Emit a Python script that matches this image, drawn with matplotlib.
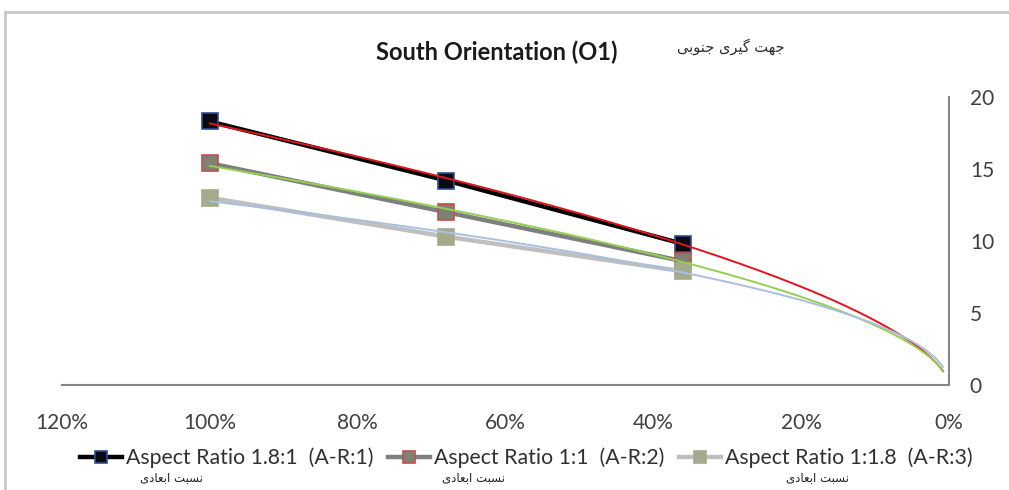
import numpy as np
import matplotlib
matplotlib.use("Agg")
import matplotlib.pyplot as plt
from matplotlib.lines import Line2D
from matplotlib.ticker import FuncFormatter

# ---- data ----
x_ratio = [1.00, 0.68, 0.36]
s1 = [18.3, 14.2, 9.8]
s2 = [15.4, 12.0, 8.6]
s3 = [13.0, 10.3, 7.9]
series_labels = ["Aspect Ratio 1.8:1  (A-R:1)",
                 "Aspect Ratio 1:1  (A-R:2)",
                 "Aspect Ratio 1:1.8  (A-R:3)"]
title = "South Orientation (O1)"
# Persian texts written with Arabic presentation forms in visual order
title_fa = "\uFBFD\uFE91\uFEEE\uFEE8\uFE9F \uFBFC\uFEAE\uFBFF\uFB94 \uFE96\uFEEC\uFE9F"   # جهت گیری جنوبی
legend_fa = "\uFBFC\uFEA9\uFE8E\uFECC\uFE91\uFE8D \uFE96\uFE92\uFEB4\uFEE7"             # نسبت ابعادی
x_ticks = [1.2, 1.0, 0.8, 0.6, 0.4, 0.2, 0.0]
y_ticks = [0, 5, 10, 15, 20]

plt.rcParams['font.family'] = ['Lato', 'DejaVu Sans']

W, H = 1009, 490
fig = plt.figure(figsize=(W / 100, H / 100), dpi=100)
fig.patch.set_facecolor("white")

def fx(px):
    return px / W

def fy(py):
    return 1 - py / H

ax = fig.add_axes([fx(62), fy(385), fx(949) - fx(62), fy(97) - fy(385)])

line_styles = [
    dict(color="#000000", mfc="#0a0a14", mec="#2f4f8f"),
    dict(color="#7f7f7f", mfc="#808075", mec="#c0504d"),
    dict(color="#bfbfbf", mfc="#a4aa8c", mec="#a4aa8c"),
]
trend_colors = ["#e3131e", "#92d050", "#a9bfe0"]

handles = []
for ys, st, lab in zip([s1, s2, s3], line_styles, series_labels):
    h, = ax.plot(x_ratio, ys, color=st["color"], lw=3.2, marker="s", ms=11,
                 mfc=st["mfc"], mec=st["mec"], mew=1.2, label=lab, zorder=3)
    handles.append(h)

# power trendlines fitted to each series
xt = np.linspace(0.008, 1.0, 300)
for ys, c in zip([s1, s2, s3], trend_colors):
    b, lna = np.polyfit(np.log(x_ratio), np.log(ys), 1)
    ax.plot(xt, np.exp(lna) * xt ** b, color=c, lw=1.4, zorder=4)

ax.set_xlim(1.2, 0.0)
ax.set_ylim(0, 20)
ax.set_xticks(x_ticks)
ax.xaxis.set_major_formatter(FuncFormatter(lambda v, p: f"{v*100:.0f}%"))
ax.set_yticks(y_ticks)
ax.yaxis.tick_right()
for s in ["top", "left"]:
    ax.spines[s].set_visible(False)
for s in ["bottom", "right"]:
    ax.spines[s].set_color("#868686")
    ax.spines[s].set_linewidth(1.5)
ax.tick_params(axis="x", length=0, pad=20, labelsize=15, labelcolor="#404040")
ax.tick_params(axis="y", length=0, pad=15, labelsize=15, labelcolor="#404040")

# title
fig.text(fx(497), fy(52), title, ha="center", va="center", fontsize=17,
         fontweight="bold", color="#1a1a1a")
fig.text(fx(731), fy(47), title_fa, ha="center", va="center", fontsize=10.5,
         family=["DejaVu Sans"], color="#303030")

# legend
leg = fig.legend(handles=handles, loc="center", bbox_to_anchor=(fx(526), fy(458)),
                 ncol=3, frameon=False, fontsize=15.3, handlelength=2.0,
                 handletextpad=0.15, columnspacing=0.7, markerscale=0.8)
for t in leg.get_texts():
    t.set_color("#303030")
for xp in [172, 473, 817]:
    fig.text(fx(xp), fy(478), legend_fa, ha="center", va="center", fontsize=8.5,
             family=["DejaVu Sans"], color="#202020")

# chart frame border
fig.add_artist(Line2D([fx(5), 1.0], [fy(12), fy(12)], color="#c8c8c8", lw=2))
fig.add_artist(Line2D([fx(5), fx(5)], [fy(12), 0.0], color="#c8c8c8", lw=2))

fig.savefig("out.png", dpi=100)
